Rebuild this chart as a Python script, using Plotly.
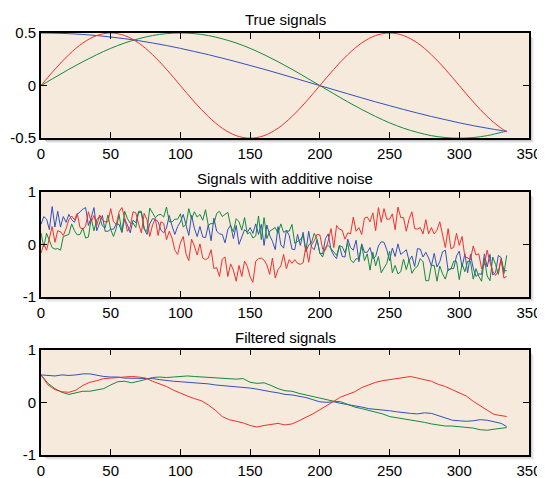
import plotly.graph_objects as go

# ---------------- data ----------------
# True signals, sampled every 10 samples (+ last sample 334)
true_x = list(range(0, 331, 10)) + [334]
true_blue = [0.50, 0.498, 0.494, 0.486, 0.476, 0.462, 0.446, 0.427, 0.405, 0.381,
             0.354, 0.324, 0.294, 0.261, 0.227, 0.191, 0.155, 0.117, 0.078, 0.039,
             0.0, -0.039, -0.078, -0.117, -0.155, -0.191, -0.227, -0.261, -0.294, -0.324,
             -0.354, -0.381, -0.405, -0.427, -0.434]
true_green = [0.0, 0.078, 0.155, 0.227, 0.294, 0.354, 0.405, 0.445, 0.476, 0.494,
              0.50, 0.494, 0.476, 0.445, 0.405, 0.354, 0.294, 0.227, 0.155, 0.078,
              0.0, -0.078, -0.155, -0.227, -0.294, -0.354, -0.405, -0.445, -0.476, -0.494,
              -0.50, -0.494, -0.476, -0.445, -0.433]
true_red = [0.0, 0.155, 0.294, 0.405, 0.476, 0.50, 0.476, 0.405, 0.294, 0.155,
            0.0, -0.155, -0.294, -0.405, -0.476, -0.50, -0.476, -0.405, -0.294, -0.155,
            0.0, 0.155, 0.294, 0.405, 0.476, 0.50, 0.476, 0.405, 0.294, 0.155,
            0.0, -0.155, -0.294, -0.405, -0.438]

# Signals with additive noise, read every 2 samples (x = 0, 2, ..., 334)
noisy_red = [
    -0.17, 0.01, -0.11, 0.12, 0.34, 0.04, 0.26, 0.24, 0.17, 0.30,
    0.47, 0.54, 0.47, 0.59, 0.32, 0.29, 0.35, 0.62, 0.43, 0.55,
    0.36, 0.56, 0.47, 0.43, 0.43, 0.68, 0.43, 0.38, 0.62, 0.70,
    0.51, 0.25, 0.33, 0.62, 0.60, 0.39, 0.22, 0.59, 0.47, 0.15,
    0.37, 0.49, 0.17, 0.43, 0.40, 0.09, 0.25, 0.12, -0.11, -0.19,
    0.03, 0.15, -0.18, -0.31, 0.10, -0.03, -0.20, 0.01, -0.26, -0.29,
    -0.26, -0.10, -0.46, -0.44, -0.61, -0.28, -0.24, -0.61, -0.37, -0.49,
    -0.70, -0.40, -0.61, -0.32, -0.42, -0.62, -0.72, -0.32, -0.27, -0.26,
    -0.30, -0.39, -0.57, -0.26, -0.64, -0.48, -0.41, -0.19, -0.46, -0.29,
    -0.36, -0.29, -0.36, -0.38, -0.35, -0.03, -0.34, -0.01, 0.07, 0.19,
    0.18, -0.09, -0.11, 0.07, 0.30, -0.06, 0.36, 0.29, 0.27, 0.10,
    0.22, 0.20, 0.52, 0.25, 0.32, 0.19, 0.50, 0.52, 0.43, 0.60,
    0.26, 0.70, 0.42, 0.68, 0.48, 0.48, 0.58, 0.28, 0.71, 0.51,
    0.51, 0.25, 0.48, 0.62, 0.30, 0.29, 0.32, 0.20, 0.47, 0.20,
    0.32, 0.20, 0.27, 0.43, 0.16, -0.06, 0.30, -0.08, -0.06, 0.21,
    -0.02, 0.15, -0.23, -0.26, -0.29, -0.03, -0.20, -0.18, -0.46, -0.39,
    -0.11, -0.34, -0.51, -0.59, -0.51, -0.28, -0.64, -0.61]
noisy_green = [
    0.22, -0.05, 0.21, 0.08, -0.06, -0.09, -0.08, -0.11, 0.15, 0.17,
    0.19, 0.39, 0.26, 0.18, 0.19, 0.31, 0.12, 0.14, 0.49, 0.26,
    0.47, 0.53, 0.35, 0.31, 0.56, 0.28, 0.15, 0.31, 0.57, 0.23,
    0.63, 0.49, 0.40, 0.41, 0.32, 0.63, 0.63, 0.29, 0.25, 0.69,
    0.61, 0.51, 0.56, 0.57, 0.52, 0.71, 0.43, 0.43, 0.48, 0.48,
    0.58, 0.33, 0.38, 0.68, 0.48, 0.62, 0.52, 0.57, 0.46, 0.66,
    0.36, 0.40, 0.39, 0.59, 0.63, 0.53, 0.57, 0.61, 0.35, 0.24,
    0.49, 0.43, 0.27, 0.51, 0.20, 0.23, 0.12, 0.16, 0.54, 0.09,
    0.51, 0.11, 0.25, 0.29, 0.32, 0.21, 0.39, 0.23, 0.26, 0.25,
    0.38, 0.02, 0.05, 0.09, 0.17, -0.14, -0.01, 0.03, 0.21, 0.10,
    -0.17, -0.24, -0.05, -0.02, -0.08, -0.15, -0.21, -0.03, -0.04, -0.16,
    0.02, -0.29, -0.35, -0.27, -0.28, -0.01, -0.31, -0.18, -0.49, -0.15,
    -0.41, -0.23, -0.54, -0.45, -0.36, -0.13, -0.54, -0.40, -0.56, -0.52,
    -0.28, -0.48, -0.29, -0.55, -0.46, -0.42, -0.27, -0.33, -0.69, -0.69,
    -0.40, -0.40, -0.70, -0.41, -0.56, -0.66, -0.47, -0.47, -0.32, -0.32,
    -0.67, -0.37, -0.52, -0.32, -0.32, -0.66, -0.46, -0.61, -0.70, -0.26,
    -0.60, -0.69, -0.24, -0.38, -0.57, -0.27, -0.56, -0.21]
noisy_blue = [
    0.38, 0.53, 0.48, 0.28, 0.72, 0.33, 0.63, 0.33, 0.53, 0.42,
    0.57, 0.47, 0.42, 0.57, 0.62, 0.67, 0.70, 0.36, 0.51, 0.70,
    0.26, 0.40, 0.55, 0.25, 0.25, 0.29, 0.29, 0.39, 0.38, 0.23,
    0.48, 0.37, 0.22, 0.46, 0.41, 0.61, 0.60, 0.30, 0.19, 0.39,
    0.49, 0.48, 0.43, 0.27, 0.22, 0.31, 0.55, 0.35, 0.19, 0.34,
    0.43, 0.57, 0.37, 0.17, 0.55, 0.31, 0.15, 0.34, 0.14, 0.13,
    0.37, 0.07, 0.50, 0.25, 0.20, 0.19, 0.03, 0.28, 0.37, 0.11,
    0.36, 0.00, 0.14, 0.28, 0.23, 0.32, 0.21, 0.39, 0.19, 0.38,
    -0.02, 0.37, 0.17, 0.06, -0.10, 0.34, -0.01, -0.07, 0.27, 0.17,
    -0.09, -0.10, 0.19, -0.02, 0.23, -0.13, 0.25, -0.05, -0.10, 0.09,
    -0.17, -0.18, 0.11, 0.20, -0.10, -0.21, -0.27, -0.02, -0.23, -0.24,
    0.10, -0.06, -0.11, 0.08, -0.33, 0.01, -0.15, -0.15, -0.06, -0.27,
    -0.23, -0.03, 0.05, 0.04, -0.10, -0.31, -0.07, -0.23, 0.01, -0.19,
    -0.15, -0.10, -0.31, -0.22, -0.42, -0.08, -0.09, -0.24, -0.15, -0.26,
    -0.41, -0.17, -0.43, -0.33, -0.14, -0.11, -0.50, -0.46, -0.46, -0.22,
    -0.13, -0.43, -0.18, -0.54, -0.19, -0.45, -0.61, -0.56, -0.57, -0.18,
    -0.43, -0.19, -0.58, -0.54, -0.21, -0.25, -0.50, -0.50]

# Filtered signals, read every 5 samples (+ last sample 334)
filt_x = list(range(0, 331, 5)) + [334]
filt_blue = [0.52, 0.51, 0.50, 0.52, 0.51, 0.52, 0.54, 0.54, 0.51, 0.49,
             0.48, 0.48, 0.46, 0.46, 0.45, 0.46, 0.45, 0.43, 0.41, 0.40,
             0.39, 0.38, 0.38, 0.36, 0.35, 0.33, 0.32, 0.31, 0.30, 0.29,
             0.27, 0.25, 0.22, 0.20, 0.18, 0.15, 0.14, 0.12, 0.09, 0.05,
             0.01, 0.00, 0.01, -0.02, -0.04, -0.06, -0.09, -0.12, -0.13, -0.15,
             -0.16, -0.18, -0.20, -0.21, -0.22, -0.20, -0.21, -0.25, -0.30, -0.34,
             -0.35, -0.36, -0.35, -0.33, -0.34, -0.37, -0.40, -0.46]
filt_green = [0.52, 0.36, 0.26, 0.19, 0.15, 0.18, 0.21, 0.21, 0.23, 0.26,
              0.33, 0.39, 0.40, 0.37, 0.40, 0.44, 0.47, 0.48, 0.47, 0.48,
              0.49, 0.50, 0.49, 0.48, 0.47, 0.46, 0.46, 0.45, 0.44, 0.45,
              0.38, 0.36, 0.37, 0.32, 0.26, 0.22, 0.21, 0.17, 0.14, 0.10,
              0.07, 0.04, 0.02, 0.01, -0.04, -0.09, -0.12, -0.15, -0.18, -0.22,
              -0.27, -0.29, -0.31, -0.34, -0.36, -0.38, -0.41, -0.43, -0.45, -0.45,
              -0.46, -0.48, -0.49, -0.52, -0.53, -0.51, -0.50, -0.48]
filt_red = [0.52, 0.33, 0.24, 0.20, 0.19, 0.23, 0.32, 0.38, 0.41, 0.45,
            0.46, 0.47, 0.48, 0.49, 0.48, 0.46, 0.40, 0.35, 0.30, 0.23,
            0.17, 0.12, 0.07, 0.03, -0.05, -0.15, -0.27, -0.33, -0.36, -0.39,
            -0.44, -0.47, -0.44, -0.42, -0.40, -0.43, -0.41, -0.35, -0.29, -0.22,
            -0.14, -0.06, 0.02, 0.10, 0.15, 0.20, 0.28, 0.33, 0.38, 0.41,
            0.43, 0.45, 0.48, 0.49, 0.46, 0.43, 0.40, 0.34, 0.30, 0.24,
            0.18, 0.12, 0.02, -0.07, -0.15, -0.23, -0.26, -0.27]

titles = ["True signals", "Signals with additive noise", "Filtered signals"]
x_tickvals = [0, 50, 100, 150, 200, 250, 300, 350]
x_ticktext = ["0", "50", "100", "150", "200", "250", "300", "350"]
y1_tickvals = [-0.5, 0, 0.5]
y1_ticktext = ["-0.5", "0", "0.5"]
y23_tickvals = [-1, 0, 1]
y23_ticktext = ["-1", "0", "1"]

# ---------------- styling ----------------
RED = "#F42E2E"
GREEN = "#138A3F"
BLUE = "#3350BE"
BG = "#F5EADB"
FONT = "Liberation Sans, Arial, sans-serif"

# The page body has an 8px default margin: work in screenshot pixels and shift.
OFF = 8
W, H = 545 - OFF, 478 - OFF
left_px, right_px = 40.7, 528.6            # axes box, screenshot pixels
box_px = [(33.0, 138.3), (192.0, 297.3), (350.0, 455.5)]
ML = left_px - OFF
MR = W - (right_px - OFF)
MT = box_px[0][0] - OFF
MB = H - (box_px[2][1] - OFF)
plot_w = W - ML - MR
plot_h = H - MT - MB


def fy(py):
    return (H - MB - (py - OFF)) / plot_h


def fx(px):
    return ((px - OFF) - ML) / plot_w


domains = [[fy(b), fy(t)] for t, b in box_px]
domains[0][1] = 1.0
domains[2][0] = 0.0

fig = go.Figure()

series = [
    (1, true_x, [true_blue, true_green, true_red], "spline"),
    (2, None, [noisy_blue, noisy_green, noisy_red], "linear"),
    (3, filt_x, [filt_blue, filt_green, filt_red], "linear"),
]
for row, xs, ys_list, shape in series:
    for ys, col in zip(ys_list, [BLUE, GREEN, RED]):
        xx = xs if xs is not None else [2 * i for i in range(len(ys))]
        fig.add_trace(go.Scatter(
            x=xx, y=ys, mode="lines",
            line=dict(color=col, width=1, shape=shape),
            xaxis="x" if row == 1 else f"x{row}",
            yaxis="y" if row == 1 else f"y{row}",
            showlegend=False, hoverinfo="skip"))

axis_common = dict(
    showline=True, linecolor="black", linewidth=1.6, mirror="allticks",
    ticks="inside", ticklen=6, tickwidth=1, tickcolor="black",
    showgrid=False, zeroline=False, automargin=False,
    tickfont=dict(family=FONT, size=15, color="black"),
)

layout = dict(
    width=W, height=H,
    margin=dict(l=ML, r=MR, t=MT, b=MB, autoexpand=False),
    paper_bgcolor="white", plot_bgcolor=BG,
    showlegend=False,
    font=dict(family=FONT, size=15, color="black"),
)
for i in range(3):
    xs = "xaxis" if i == 0 else f"xaxis{i+1}"
    ys = "yaxis" if i == 0 else f"yaxis{i+1}"
    yref = "y" if i == 0 else f"y{i+1}"
    xref = "x" if i == 0 else f"x{i+1}"
    layout[xs] = dict(axis_common, range=[0, 350], tickvals=x_tickvals,
                      ticktext=x_ticktext, anchor=yref, domain=[0, 1],
                      ticklabelstandoff=1)
    if i == 0:
        layout[ys] = dict(axis_common, range=[-0.5, 0.5], tickvals=y1_tickvals,
                          ticktext=y1_ticktext, anchor=xref, domain=domains[i])
    else:
        layout[ys] = dict(axis_common, range=[-1, 1], tickvals=y23_tickvals,
                          ticktext=y23_ticktext, anchor=xref, domain=domains[i])
fig.update_layout(**layout)

# soft drop shadow right of and below each axes box
shadow_cols = ["#a8a8a8", "#c4c4c4", "#dcdcdc", "#eeeeee"]
for top, bot in box_px:
    for j, c in enumerate(shadow_cols):
        fig.add_shape(type="rect", xref="paper", yref="paper",
                      x0=fx(right_px + 0.8 + j), x1=fx(right_px + 1.8 + j),
                      y0=fy(bot + 1.8 + j), y1=fy(top + 3 + j),
                      fillcolor=c, line=dict(width=0), layer="below")
        fig.add_shape(type="rect", xref="paper", yref="paper",
                      x0=fx(left_px + 3 + j), x1=fx(right_px + 1.8 + j),
                      y0=fy(bot + 1.8 + j), y1=fy(bot + 0.8 + j),
                      fillcolor=c, line=dict(width=0), layer="below")

title_py = [19.5, 179.0, 337.5]
for t, py in zip(titles, title_py):
    fig.add_annotation(text=t, x=0.5, y=fy(py), xref="paper", yref="paper",
                       xanchor="center", yanchor="middle", showarrow=False,
                       font=dict(family=FONT, size=15, color="black"))

fig.write_html("out.html")
